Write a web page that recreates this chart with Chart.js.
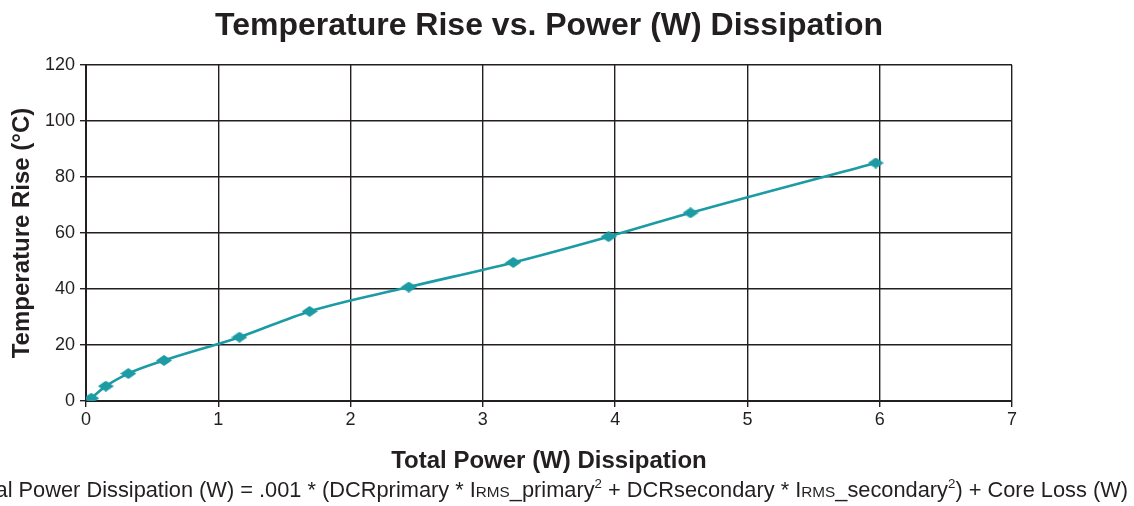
<!DOCTYPE html>
<html>
<head>
<meta charset="utf-8">
<script src="https://cdn.jsdelivr.net/npm/chart.js@4/dist/chart.umd.min.js"></script>
<style>
  html, body { margin: 0; padding: 0; background: #fff; overflow: hidden; }
  #wrap { position: relative; width: 1134px; height: 506px; }
  #caption {
    position: absolute; right: 6px; top: 477px;
    white-space: nowrap; font-family: 'Liberation Sans', Arial, sans-serif;
    font-size: 21.8px; color: #231f20;
  }
  #caption .sc { font-size: 15.3px; }
  #caption sup { font-size: 13.3px; vertical-align: 9px; line-height: 0; }
</style>
</head>
<body>
<div id="wrap">
  <canvas id="tempChart" width="1134" height="506"></canvas>
  <div id="caption">Total Power Dissipation (W) = .001 * (DCRprimary * I<span class="sc">RMS</span>_primary<sup>2</sup> + DCRsecondary * I<span class="sc">RMS</span>_secondary<sup>2</sup>) + Core Loss (W)</div>
</div>
<script>
// values
const powerW = [0.04, 0.15, 0.32, 0.59, 1.16, 1.69, 2.44, 3.23, 3.95, 4.57, 5.97];
const tempRise = [1, 5.3, 9.8, 14.5, 22.8, 32, 40.7, 49.5, 58.7, 67.2, 85];
const xTicks = [0, 1, 2, 3, 4, 5, 6, 7];
const yTicks = [0, 20, 40, 60, 80, 100, 120];

const FONT = "'Liberation Sans', Arial, sans-serif";
const TEAL = '#1c9ba4';
const GRID = '#231f20';

const points = powerW.map((x, i) => ({ x, y: tempRise[i] }));

// flat diamond marker like the original
const makeDiamond = () => {
  const c = document.createElement('canvas');
  c.width = 16;
  c.height = 11;
  const ctx = c.getContext('2d');
  ctx.fillStyle = TEAL;
  ctx.beginPath();
  ctx.moveTo(8, 0);
  ctx.lineTo(16, 5.5);
  ctx.lineTo(8, 11);
  ctx.lineTo(0, 5.5);
  ctx.closePath();
  ctx.fill();
  return c;
};

const displayTempChart = () => {
  new Chart('tempChart', {
    type: 'scatter',
    data: {
      datasets: [
        {
          data: points,
          showLine: true,
          borderColor: TEAL,
          backgroundColor: TEAL,
          borderWidth: 2.6,
          pointStyle: makeDiamond(),
          pointRadius: 7,
          cubicInterpolationMode: 'monotone',
        },
      ],
    },
    options: {
      responsive: false,
      animation: false,
      layout: { padding: { left: 0, right: 122, top: 0, bottom: 28 } },
      plugins: {
        legend: { display: false },
        tooltip: { enabled: false },
        title: {
          display: true,
          fullSize: false,
          text: 'Temperature Rise vs. Power (W) Dissipation',
          color: GRID,
          font: { family: FONT, size: 32, weight: 'bold' },
          padding: { top: 7, bottom: 19.6 },
        },
      },
      scales: {
        x: {
          type: 'linear',
          min: 0,
          max: 7,
          afterBuildTicks: (axis) => {
            axis.ticks = xTicks.map((v) => ({ value: v }));
          },
          afterFit: (axis) => {
            axis.height = 77;
          },
          grid: { color: GRID, lineWidth: 1.4, tickLength: 6 },
          border: { color: GRID, width: 2 },
          ticks: { color: GRID, font: { family: FONT, size: 18 }, padding: 2 },
          title: {
            display: true,
            text: 'Total Power (W) Dissipation',
            color: GRID,
            font: { family: FONT, size: 24, weight: 'bold' },
            padding: { top: 0, bottom: 2 },
          },
        },
        y: {
          type: 'linear',
          min: 0,
          max: 120,
          afterBuildTicks: (axis) => {
            axis.ticks = yTicks.map((v) => ({ value: v }));
          },
          afterFit: (axis) => {
            axis.width = 86;
          },
          grid: { color: GRID, lineWidth: 1.4, tickLength: 6 },
          border: { color: GRID, width: 2 },
          ticks: { color: GRID, font: { family: FONT, size: 18 }, padding: 5 },
          title: {
            display: true,
            text: 'Temperature Rise (°C)',
            color: GRID,
            font: { family: FONT, size: 24, weight: 'bold' },
            padding: { top: 8, bottom: 0 },
          },
        },
      },
    },
  });
};

displayTempChart();
</script>
</body>
</html>
